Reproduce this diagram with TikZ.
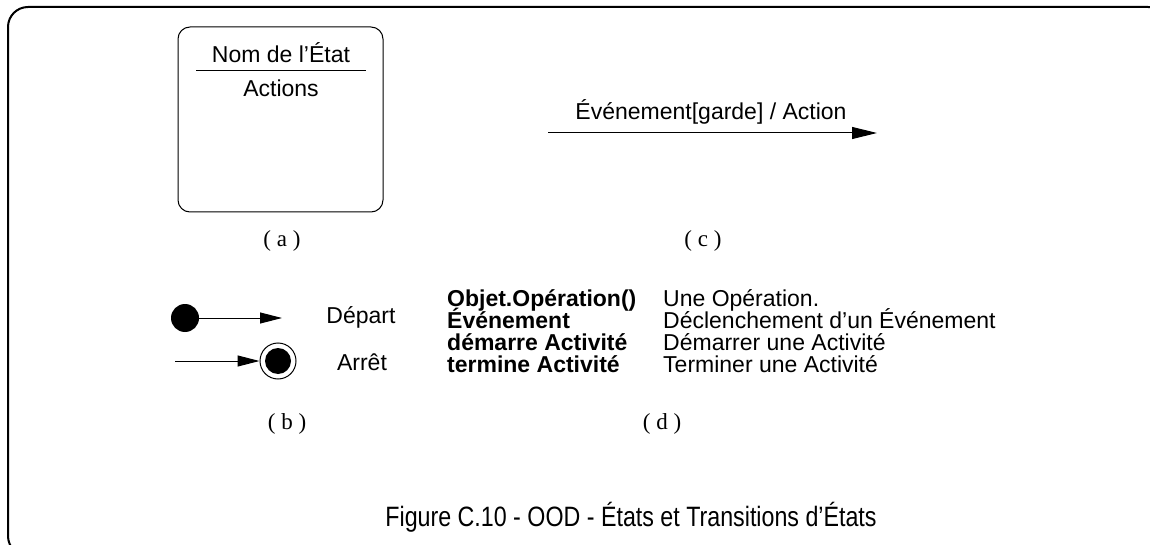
\documentclass[tikz,border=0pt]{standalone}
\usepackage{fontspec}
\setmainfont{Liberation Sans}
\newfontfamily\lettrefont{Liberation Serif}
\usetikzlibrary{arrows.meta, positioning}

\begin{document}
\begin{tikzpicture}[x=1pt, y=-1pt, >={Triangle[length=25pt, width=12pt]},
  every node/.style={inner sep=0pt, font=\fontsize{23}{23}\selectfont},
  lettre/.style={font=\fontsize{23}{23}\selectfont\lettrefont},
  trans/.style={->, line width=1pt},
  petit/.style={->, line width=1pt, >={Triangle[length=22pt, width=11pt]}}]
  \useasboundingbox (0,0) rectangle (1150,545);
  % cadre
  \begin{scope}
    \clip (0,0) rectangle (1150,545);
    \draw[line width=2pt, rounded corners=20pt] (8,7) rectangle (1168,556);
  \end{scope}

  % (a) etat
  \node[draw, line width=1pt, rounded corners=12pt, minimum width=205pt, minimum height=185pt] (etat) at (280.5,119.5) {};
  \node[anchor=base] (nom) at (281,63) {Nom de l’État};
  \draw[line width=1pt] (196,71) -- (366,71);
  \node[anchor=base] (actions) at (281,97) {Actions};
  \node[lettre, anchor=base] (la) at (282,247) {( a )};

  % (c) transition
  \coordinate (c0) at (548,133);
  \coordinate (c1) at (877,133);
  \draw[trans] (c0) -- (c1);
  \node[anchor=base] (evt) at (711,120) {Événement[garde] / Action};
  \node[lettre, anchor=base] (lc) at (703,247) {( c )};

  % (b) depart / arret
  \node[circle, fill, minimum size=28pt] (init) at (185,318) {};
  \coordinate (initfin) at (282,318);
  \draw[petit] (init) -- (initfin);
  \node[circle, draw, line width=1pt, minimum size=36pt] (fin) at (278,361) {};
  \node[circle, fill, minimum size=26pt] (finint) at (fin.center) {};
  \coordinate (findeb) at (175,361);
  \draw[petit] (findeb) -- (fin);
  \node (depart) at (361,317) {Départ};
  \node (arret) at (362,362) {Arrêt};
  \node[lettre, anchor=base] (lb) at (287,429) {( b )};

  % (d) legende
  \node[anchor=base west, font=\fontsize{23}{23}\selectfont\bfseries] (g1) at (447,306) {Objet.Opération()};
  \node[anchor=base west, font=\fontsize{23}{23}\selectfont\bfseries] (g2) at (447,328) {Événement};
  \node[anchor=base west, font=\fontsize{23}{23}\selectfont\bfseries] (g3) at (447,350) {démarre Activité};
  \node[anchor=base west, font=\fontsize{23}{23}\selectfont\bfseries] (g4) at (447,372) {termine Activité};
  \node[anchor=base west] (d1) at (663,306) {Une Opération.};
  \node[anchor=base west] (d2) at (663,328) {Déclenchement d’un Événement};
  \node[anchor=base west] (d3) at (663,350) {Démarrer une Activité};
  \node[anchor=base west] (d4) at (663,372) {Terminer une Activité};
  \node[lettre, anchor=base] (ld) at (662,429) {( d )};

  % titre
  \node[anchor=base, font=\fontsize{28}{28}\selectfont] (titre) at (631,526) {\scalebox{0.83}[1]{Figure C.10 - OOD - États et Transitions d’États}};
\end{tikzpicture}
\end{document}
